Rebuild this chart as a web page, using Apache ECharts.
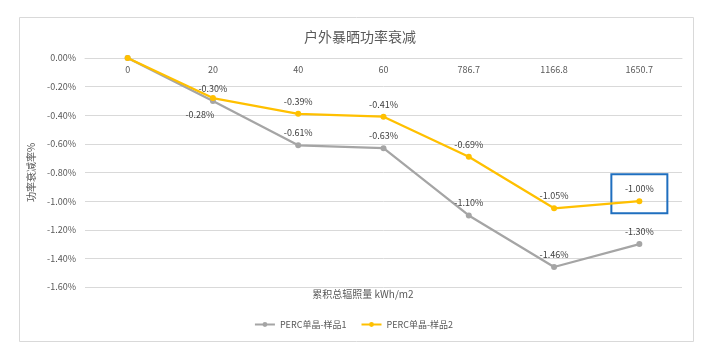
<!DOCTYPE html>
<html>
<head>
<meta charset="utf-8">
<script src="https://cdn.jsdelivr.net/npm/echarts@6/dist/echarts.min.js"></script>
<style>
  html, body { margin: 0; padding: 0; background: #fff; }
  #chart { width: 707px; height: 352px; }
</style>
</head>
<body>
<div id="chart"></div>
<script>
// 数据
const categories = ['0', '20', '40', '60', '786.7', '1166.8', '1650.7'];
const sample1 = [0, -0.30, -0.61, -0.63, -1.10, -1.46, -1.30];
const sample2 = [0, -0.28, -0.39, -0.41, -0.69, -1.05, -1.00];
const seriesNames = ['PERC单晶-样品1', 'PERC单晶-样品2'];
const yTicks = { min: -1.6, max: 0, step: 0.2 };

const font = '"Noto Sans CJK SC", "Noto Sans", sans-serif';

function pct(v) {
    return v.toFixed(2) + '%';
}

// 第一个点(0)不显示标签, 20 处的标签位置与原图一致
function labelData(values, idx1Label) {
    return values.map((v, i) => {
        if (i === 0) return { value: v, label: { show: false } };
        if (i === 1 && idx1Label) return { value: v, label: idx1Label };
        return v;
    });
}

const chart = echarts.init(document.getElementById('chart'));
chart.setOption({
    backgroundColor: '#fff',
    animation: false,
    title: [
        {
            text: '户外暴晒功率衰减',
            left: 355,
            top: 25,
            textAlign: 'center',
            textStyle: { fontFamily: font, fontSize: 14, fontWeight: 'normal', color: '#595959' }
        },
        {
            text: '累积总辐照量 kWh/m2',
            left: 358,
            top: 284,
            textAlign: 'center',
            textStyle: { fontFamily: font, fontSize: 10, fontWeight: 'normal', color: '#595959' }
        }
    ],
    legend: {
        bottom: 18,
        left: 'center',
        itemWidth: 20,
        itemHeight: 6,
        itemGap: 14,
        textStyle: { fontFamily: font, fontSize: 9, color: '#595959' },
        data: seriesNames
    },
    grid: {
        left: 85,
        right: 25,
        top: 58,
        bottom: 65,
        containLabel: false
    },
    xAxis: {
        type: 'category',
        position: 'top',
        data: categories,
        boundaryGap: true,
        axisLine: { onZero: false, lineStyle: { color: '#d9d9d9' } },
        axisTick: { show: false },
        axisLabel: {
            inside: true,
            margin: 7,
            fontFamily: font,
            fontSize: 9,
            color: '#595959'
        }
    },
    yAxis: {
        type: 'value',
        min: yTicks.min,
        max: yTicks.max,
        interval: yTicks.step,
        name: '功率衰减率%',
        nameLocation: 'middle',
        nameGap: 43,
        nameTextStyle: { fontFamily: font, fontSize: 10, color: '#595959' },
        axisLine: { show: false },
        axisTick: { show: false },
        axisLabel: {
            margin: 9,
            fontFamily: font,
            fontSize: 9,
            color: '#595959',
            formatter: v => pct(v)
        },
        splitLine: { lineStyle: { color: '#d9d9d9' } }
    },
    series: [
        {
            name: seriesNames[0],
            type: 'line',
            data: labelData(sample1, null),
            color: '#A5A5A5',
            lineStyle: { width: 2.25 },
            symbol: 'circle',
            symbolSize: 6,
            z: 2,
            label: {
                show: true,
                position: 'top',
                distance: 5,
                fontFamily: font,
                fontSize: 9,
                color: '#404040',
                formatter: p => pct(p.value)
            }
        },
        {
            name: seriesNames[1],
            type: 'line',
            data: labelData(sample2, { position: 'bottom', distance: 9, offset: [-13, 0] }),
            color: '#FFC000',
            lineStyle: { width: 2.25 },
            symbol: 'circle',
            symbolSize: 6,
            z: 3,
            label: {
                show: true,
                position: 'top',
                distance: 5,
                fontFamily: font,
                fontSize: 9,
                color: '#404040',
                formatter: p => pct(p.value)
            }
        }
    ]
});

// 外框 + 标注框(围绕样品2最后一个点)
const last = sample2.length - 1;
const pt = chart.convertToPixel({ seriesIndex: 1 }, [last, sample2[last]]);
chart.setOption({
    graphic: [
        {
            type: 'rect',
            shape: { x: 19.5, y: 17.5, width: 674, height: 324 },
            style: { fill: 'none', stroke: '#d9d9d9', lineWidth: 1 },
            silent: true
        },
        {
            type: 'rect',
            shape: { x: pt[0] - 28, y: pt[1] - 27, width: 56, height: 39 },
            style: { fill: 'none', stroke: '#1F6FBF', lineWidth: 2 },
            silent: true
        }
    ]
});
</script>
</body>
</html>
